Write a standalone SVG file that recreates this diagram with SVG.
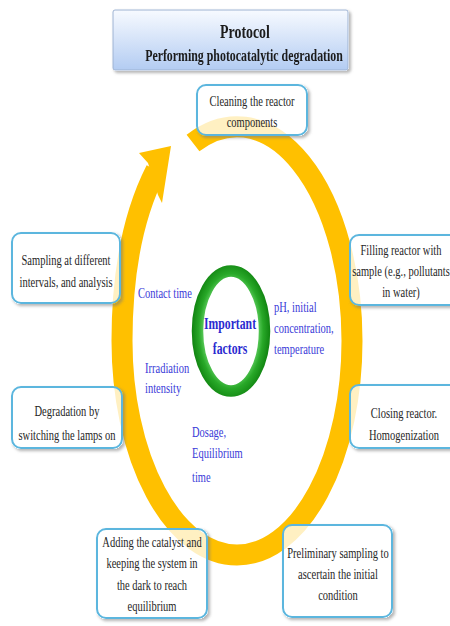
<svg xmlns="http://www.w3.org/2000/svg" width="450" height="626" viewBox="0 0 450 626">
  <defs>
    <linearGradient id="titleFill" x1="0" y1="0" x2="0" y2="1">
      <stop offset="0" stop-color="#F7FAFF"/>
      <stop offset="1" stop-color="#B3CCF2"/>
    </linearGradient>
    <radialGradient id="greenRing" cx="0.5" cy="0.5" r="0.6">
      <stop offset="0.68" stop-color="#5CCB5C"/>
      <stop offset="0.8" stop-color="#28A828"/>
      <stop offset="0.98" stop-color="#0F820F"/>
    </radialGradient>
    <!-- shadow drawn only outside the shape, so translucent fills stay clean -->
    <filter id="shadow" x="-10%" y="-10%" width="125%" height="130%">
      <feComponentTransfer in="SourceAlpha" result="solid">
        <feFuncA type="linear" slope="20"/>
      </feComponentTransfer>
      <feGaussianBlur in="solid" stdDeviation="1.5"/>
      <feOffset dx="1.5" dy="2" result="blur"/>
      <feFlood flood-color="#7A7A7A" flood-opacity="0.55"/>
      <feComposite in2="blur" operator="in" result="sh"/>
      <feComposite in="sh" in2="solid" operator="out" result="outer"/>
      <feMerge>
        <feMergeNode in="outer"/>
        <feMergeNode in="SourceGraphic"/>
      </feMerge>
    </filter>
  </defs>
  <style>
    .box { fill: #FFFFFF; fill-opacity: 0.76; stroke: #5BB6DE; stroke-width: 2; }
    .step { font-family: "Liberation Serif", "Times New Roman", serif; font-size: 15px; fill: #262626; text-anchor: middle; }
    .factor { font-family: "Liberation Serif", "Times New Roman", serif; font-size: 15px; fill: #3A3AD8; }
    .title { font-family: "Liberation Serif", "Times New Roman", serif; font-weight: bold; fill: #1A1A1A; text-anchor: middle; }
    .core { font-family: "Liberation Serif", "Times New Roman", serif; font-weight: bold; font-size: 17px; fill: #2A2AD0; text-anchor: middle; }
  </style>

  <rect width="450" height="626" fill="#FFFFFF"/>

  <!-- circular process arrow -->
  <g id="connectors">
    <path d="M193,143 A115,214 0 0 1 352,341 A115,214 0 0 1 237,555 A115,214 0 0 1 122,341 C122,290 128,225 156,170"
          fill="none" stroke="#FFC000" stroke-width="21"/>
    <polygon points="139,153 171,146 162,203 158,195 148,163" fill="#FFC000"/>
  </g>

  <!-- title -->
  <g id="title" filter="url(#shadow)">
    <rect x="113" y="10" width="235" height="60" rx="2" fill="url(#titleFill)" stroke="#9DB2D2" stroke-width="1"/>
    <text class="title" font-size="19" transform="translate(245,0) scale(.73,1)"><tspan x="0" y="38">Protocol</tspan></text>
    <text class="title" font-size="16.5" transform="translate(244,0) scale(.72,1)"><tspan x="0" y="61">Performing photocatalytic degradation</tspan></text>
  </g>

  <g id="step-cleaning">
    <rect class="box" x="197" y="85" width="110" height="50" rx="9" filter="url(#shadow)"/>
    <text class="step" transform="translate(252,0) scale(.7,1)"><tspan x="0" y="106">Cleaning the reactor</tspan><tspan x="0" y="127">components</tspan></text>
  </g>

  <g id="step-filling">
    <rect class="box" x="350" y="235" width="115" height="70" rx="9" filter="url(#shadow)"/>
    <text class="step" transform="translate(401,0) scale(.7,1)"><tspan x="0" y="255">Filling reactor with</tspan><tspan x="0" y="276">sample (e.g., pollutants</tspan><tspan x="0" y="297">in water)</tspan></text>
  </g>

  <g id="step-closing">
    <rect class="box" x="350" y="385" width="115" height="63" rx="9" filter="url(#shadow)"/>
    <text class="step" transform="translate(404,0) scale(.7,1)"><tspan x="0" y="418">Closing reactor.</tspan><tspan x="0" y="440">Homogenization</tspan></text>
  </g>

  <g id="step-preliminary">
    <rect class="box" x="283" y="525" width="109" height="92" rx="9" filter="url(#shadow)"/>
    <text class="step" transform="translate(338,0) scale(.7,1)"><tspan x="0" y="558">Preliminary sampling to</tspan><tspan x="0" y="579">ascertain the initial</tspan><tspan x="0" y="600">condition</tspan></text>
  </g>

  <g id="step-catalyst">
    <rect class="box" x="97" y="529" width="110" height="89" rx="9" filter="url(#shadow)"/>
    <text class="step" transform="translate(152,0) scale(.7,1)"><tspan x="0" y="547">Adding the catalyst and</tspan><tspan x="0" y="568">keeping the system in</tspan><tspan x="0" y="590">the dark to reach</tspan><tspan x="0" y="611">equilibrium</tspan></text>
  </g>

  <g id="step-degradation">
    <rect class="box" x="12" y="387" width="110" height="61" rx="9" filter="url(#shadow)"/>
    <text class="step" transform="translate(67,0) scale(.7,1)"><tspan x="0" y="416">Degradation by</tspan><tspan x="0" y="440">switching the lamps on</tspan></text>
  </g>

  <g id="step-sampling">
    <rect class="box" x="12" y="233" width="108" height="70" rx="9" filter="url(#shadow)"/>
    <text class="step" transform="translate(66,0) scale(.7,1)"><tspan x="0" y="265">Sampling at different</tspan><tspan x="0" y="287">intervals, and analysis</tspan></text>
  </g>

  <!-- central hub with influencing factors -->
  <g id="important-factors">
    <ellipse cx="231" cy="331" rx="33.5" ry="60" fill="#FFFFFF" stroke="url(#greenRing)" stroke-width="11.5"/>
    <text class="core" transform="translate(230,0) scale(.69,1)"><tspan x="0" y="329">Important</tspan><tspan x="0" y="354">factors</tspan></text>
  </g>

  <g id="factor-labels">
    <text class="factor" transform="translate(138,0) scale(.7,1)"><tspan x="0" y="298">Contact time</tspan></text>
    <text class="factor" transform="translate(274,0) scale(.7,1)"><tspan x="0" y="312">pH, initial</tspan><tspan x="0" y="333">concentration,</tspan><tspan x="0" y="354">temperature</tspan></text>
    <text class="factor" transform="translate(145,0) scale(.7,1)"><tspan x="0" y="373">Irradiation</tspan><tspan x="0" y="393">intensity</tspan></text>
    <text class="factor" transform="translate(192,0) scale(.7,1)"><tspan x="0" y="437">Dosage,</tspan><tspan x="0" y="458">Equilibrium</tspan><tspan x="0" y="482">time</tspan></text>
  </g>
</svg>
